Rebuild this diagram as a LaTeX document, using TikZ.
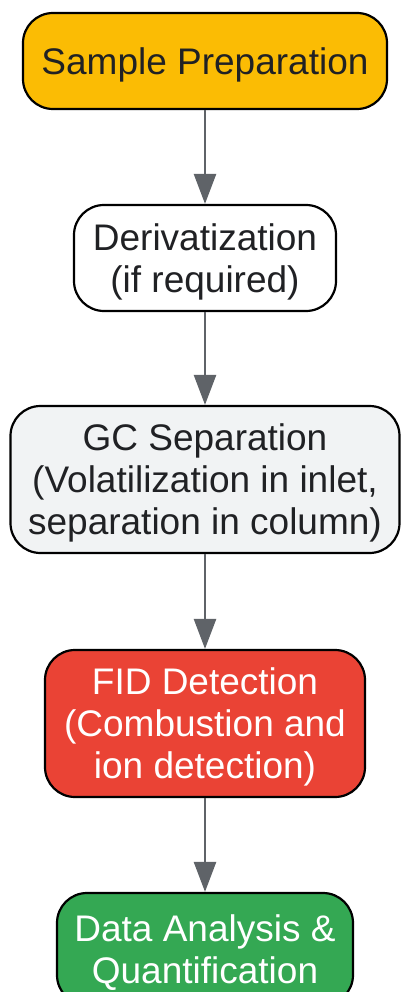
\documentclass[tikz,border=0pt]{standalone}
\usepackage{fontspec}
\setmainfont{Liberation Sans}
\usetikzlibrary{arrows.meta}
\definecolor{amarelo}{HTML}{FBBC04}
\definecolor{cinzaclaro}{HTML}{F1F3F4}
\definecolor{vermelho}{HTML}{EA4335}
\definecolor{verde}{HTML}{34A853}
\definecolor{cinzaseta}{HTML}{5F6368}
\definecolor{texto}{HTML}{202124}

\begin{document}
\begin{tikzpicture}[x=1pt,y=-1pt,
        etapa/.style={draw=black, line width=2.2pt, rounded corners=30pt,
            align=center, inner sep=0pt, text=texto, text depth=-9pt,
            font=\fontsize{37}{42}\selectfont},
        seta/.style={draw=cinzaseta, line width=2.6pt,
            -{Triangle[width=22pt,length=30pt]}}]
        \useasboundingbox (0,0) rectangle (400,992);

        % Etapas
        \node[etapa, fill=amarelo, minimum width=364pt, minimum height=96pt]
            (preparo) at (205,61) {Sample Preparation};
        \node[etapa, fill=white, minimum width=262pt, minimum height=106pt]
            (derivatizacao) at (205,258) {Derivatization\\(if required)};
        \node[etapa, fill=cinzaclaro, minimum width=389pt, minimum height=147pt]
            (separacao) at (205,479.5) {GC Separation\\(Volatilization in inlet,\\separation in column)};
        \node[etapa, fill=vermelho, text=white, minimum width=320pt, minimum height=147pt]
            (deteccao) at (205,723.5) {FID Detection\\(Combustion and\\ion detection)};
        \node[etapa, fill=verde, text=white, minimum width=296pt, minimum height=112pt]
            (analise) at (205,949) {Data Analysis \&\\Quantification};

        % Setas
        \draw[seta] (preparo) -- (derivatizacao);
        \draw[seta] (derivatizacao) -- (separacao);
        \draw[seta] (separacao) -- (deteccao);
        \draw[seta] (deteccao) -- (analise);
    \end{tikzpicture}
\end{document}
